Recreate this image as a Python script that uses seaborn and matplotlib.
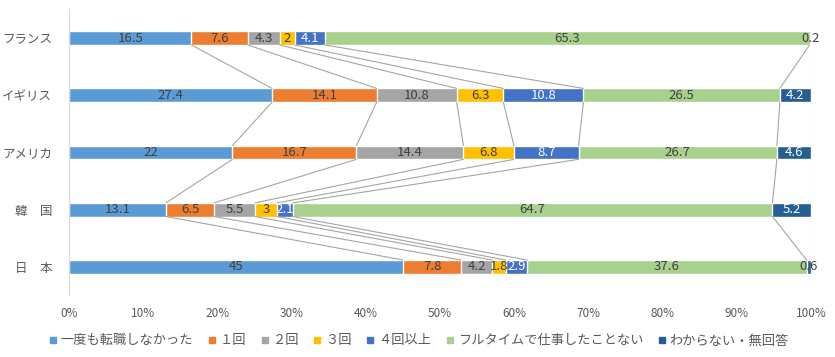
import numpy as np
import pandas as pd
import matplotlib
matplotlib.use("Agg")
import matplotlib.pyplot as plt
import seaborn as sns

countries = ["フランス", "イギリス", "アメリカ", "韓　国", "日　本"]
series = ["一度も転職しなかった", "１回", "２回", "３回", "４回以上",
          "フルタイムで仕事したことない", "わからない・無回答"]
never = [16.5, 27.4, 22, 13.1, 45]
once = [7.6, 14.1, 16.7, 6.5, 7.8]
twice = [4.3, 10.8, 14.4, 5.5, 4.2]
thrice = [2, 6.3, 6.8, 3, 1.8]
four_plus = [4.1, 10.8, 8.7, 2.1, 2.9]
no_fulltime = [65.3, 26.5, 26.7, 64.7, 37.6]
unknown = [0.2, 4.2, 4.6, 5.2, 0.6]

colors = ["#5B9BD5", "#ED7D31", "#A5A5A5", "#FFC000", "#4472C4", "#A9D18E", "#255E91"]
label_colors = ["#404040", "#404040", "#404040", "#404040", "white", "#404040", "white"]

sns.set_style("white")
plt.rcParams["font.family"] = ["Noto Sans CJK JP", "DejaVu Sans"]

vals = np.array([never, once, twice, thrice, four_plus, no_fulltime, unknown], dtype=float)
pct = vals / vals.sum(axis=0) * 100
cum = np.cumsum(pct, axis=0)

fig = plt.figure(figsize=(8.35, 3.57), dpi=100)
ax = fig.add_axes([0.0826, 0.1723, 0.8887, 0.8011])

bar_h = 0.24
# draw cumulative totals from the last series back to the first
for k in range(len(series) - 1, -1, -1):
    df = pd.DataFrame({"country": countries, "value": cum[k]})
    sns.barplot(data=df, x="value", y="country", color=colors[k], width=bar_h,
                saturation=1, ax=ax, orient="h")

# series lines between neighbouring bars
for i in range(len(countries) - 1):
    for k in range(len(series)):
        ax.plot([cum[k][i], cum[k][i + 1]], [i + bar_h / 2, i + 1 - bar_h / 2],
                color="#A5A5A5", lw=0.8, zorder=1)

# data labels
for k in range(len(series)):
    for i in range(len(countries)):
        left = cum[k][i] - pct[k][i]
        c = label_colors[k]
        if vals[k][i] < 1:
            c = "#404040"
        ax.text(left + pct[k][i] / 2, i, f"{vals[k][i]:g}", ha="center", va="center",
                fontsize=9.5, color=c, zorder=5)

ax.set_xlim(0, 100)
ax.set_ylim(4.5, -0.5)
ax.set_xticks(np.arange(0, 101, 10))
ax.set_xticklabels([f"{t}%" for t in range(0, 101, 10)])
ax.set_xlabel("")
ax.set_ylabel("")
ax.tick_params(axis="both", length=0, labelsize=8.5, colors="#595959")
ax.tick_params(axis="y", labelsize=9)
ax.tick_params(axis="x", pad=8)
ax.tick_params(axis="y", pad=12)
for s in ["top", "right", "bottom"]:
    ax.spines[s].set_visible(False)
ax.spines["left"].set_color("#D9D9D9")

handles = [plt.Line2D([], [], marker="s", ls="", color=colors[k], markersize=5)
           for k in range(len(series))]
leg = fig.legend(handles, series, loc="center", bbox_to_anchor=(0.5, 0.045), ncol=7,
                 frameon=False, fontsize=9.5, handletextpad=0.1, columnspacing=0.9,
                 handlelength=1)
for t in leg.get_texts():
    t.set_color("#595959")

fig.savefig("out.png", dpi=100)
